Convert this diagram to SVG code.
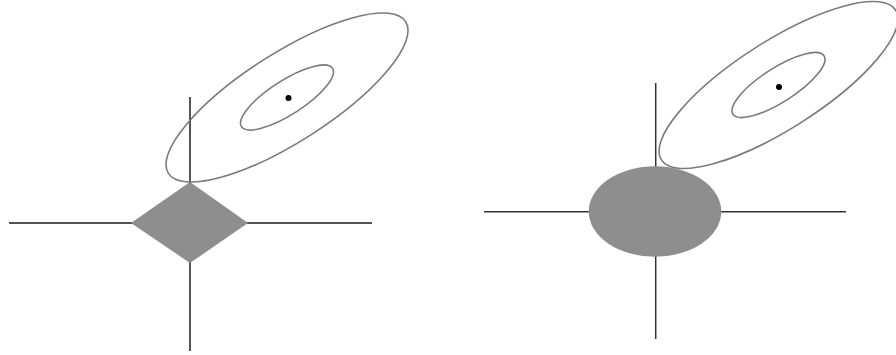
<svg xmlns="http://www.w3.org/2000/svg" width="896" height="355" viewBox="0 0 896 355">
<style>
.axis{stroke:#1a1a1a;stroke-width:1.5;fill:none}
.axis2{stroke:#333;stroke-width:1.5;fill:none}
.contour{stroke:#7a7a7a;stroke-width:1.6;fill:none}
.region{fill:#8e8e8e;stroke:none}
.dot{fill:#000}
</style>
<rect width="896" height="355" fill="#fff"/>
<g id="connectors">
  <line class="axis" x1="190" y1="97" x2="190" y2="351"/>
  <line class="axis" x1="9" y1="223" x2="372" y2="223"/>
  <line class="axis2" x1="655.7" y1="83" x2="655.7" y2="339"/>
  <line class="axis2" x1="484" y1="211.7" x2="846" y2="211.7"/>
</g>
<g id="lasso-panel">
  <g id="lasso-region"><polygon class="region" points="190,182 248,223 190,263 131,223"/></g>
  <g id="lasso-contours">
    <ellipse class="contour" cx="287" cy="97.5" rx="140.8" ry="44.3" transform="rotate(-32.6 287 97.5)"/>
    <ellipse class="contour" cx="287" cy="97.5" rx="54.1" ry="17.1" transform="rotate(-32.6 287 97.5)"/>
    <circle class="dot" cx="288.5" cy="98" r="3"/>
  </g>
</g>
<g id="ridge-panel">
  <g id="ridge-region"><ellipse class="region" cx="655" cy="211.5" rx="66.3" ry="45.3"/></g>
  <g id="ridge-contours">
    <ellipse class="contour" cx="778.5" cy="85" rx="139" ry="43.8" transform="rotate(-32.6 778.5 85)"/>
    <ellipse class="contour" cx="778.5" cy="85" rx="54.1" ry="17.1" transform="rotate(-32.6 778.5 85)"/>
    <circle class="dot" cx="779" cy="87" r="3"/>
  </g>
</g>
</svg>
